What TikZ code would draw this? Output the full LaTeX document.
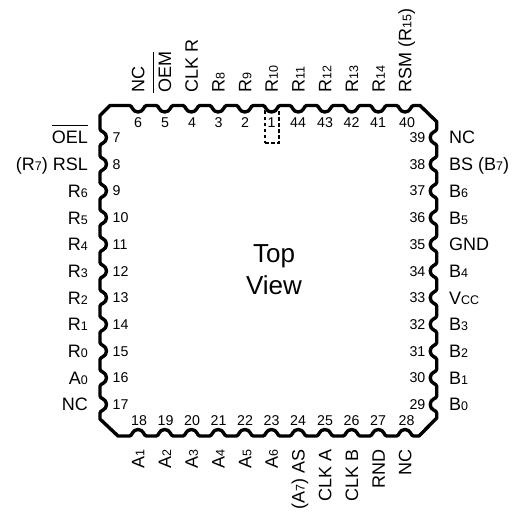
\documentclass[tikz,border=0pt]{standalone}
\usepackage{fontspec}
\setmainfont{Liberation Sans}
\newcommand{\sbs}[1]{{\fontsize{12.5}{13}\selectfont #1}}
\newsavebox{\ovlbox}
\newcommand{\ovl}[1]{\sbox{\ovlbox}{#1}\rlap{\rule[17.5pt]{\wd\ovlbox}{1.1pt}}#1}
\tikzset{
 sig/.style={inner sep=0pt,font=\fontsize{18}{20}\selectfont,text height=12.9pt,text depth=0pt},
 num/.style={inner sep=0pt,font=\fontsize{14.2}{16}\selectfont,text height=10pt,text depth=0pt},
 sigL/.style={sig,anchor=east},
 sigR/.style={sig,anchor=west},
 sigT/.style={sig,rotate=90,anchor=west},
 sigB/.style={sig,rotate=90,anchor=east},
 body/.style={line width=3.4pt,line join=round,black},
 pinone/.style={draw,line width=1.2pt,dash pattern=on 3.5pt off 2.5pt,minimum width=14pt,minimum height=32pt,inner sep=0pt},
 titletext/.style={inner sep=0pt,font=\fontsize{26}{32}\selectfont,text height=18.6pt,text depth=0pt},
}
\begin{document}
\begin{tikzpicture}[x=1pt,y=-1pt]
\useasboundingbox (0,0) rectangle (519,513);
% pin 1 marker
\node[pinone] (mark) at (272,127) {};
% package outline with rounded pin notches
\draw[body] (110,105.5)
 \foreach \p in {138,164.7,191.4,218.1,244.8,271.5,298.2,324.9,351.6,378.3,405} {
   -- ({\p-8.5},105.5) .. controls ({\p-5.5},105.5) and ({\p-6},112) .. (\p,112) .. controls ({\p+6},112) and ({\p+5.5},105.5) .. ({\p+8.5},105.5)
 }
 -- (420,105.5) -- (436.7,121.7)
 \foreach \p in {137.5,164.2,190.9,217.6,244.3,271,297.7,324.4,351.1,377.8,404.5} {
   -- (436.7,{\p-8.5}) .. controls (436.7,{\p-5.5}) and (430.2,{\p-6}) .. (430.2,\p) .. controls (430.2,{\p+6}) and (436.7,{\p+5.5}) .. (436.7,{\p+8.5})
 }
 -- (436.7,418) -- (419,436)
 \foreach \p in {405,378.3,351.6,324.9,298.2,271.5,244.8,218.1,191.4,164.7,138} {
   -- ({\p+8.5},436) .. controls ({\p+5.5},436) and ({\p+6},429.5) .. (\p,429.5) .. controls ({\p-6},429.5) and ({\p-5.5},436) .. ({\p-8.5},436)
 }
 -- (118,436) -- (100,419)
 \foreach \p in {404.5,377.8,351.1,324.4,297.7,271,244.3,217.6,190.9,164.2,137.5} {
   -- (100,{\p+8.5}) .. controls (100,{\p+5.5}) and (106.5,{\p+6}) .. (106.5,\p) .. controls (106.5,{\p-6}) and (100,{\p-5.5}) .. (100,{\p-8.5})
 }
 -- (100,115.5) -- cycle;
% centre
\node[titletext] (top) at (274,253.5) {Top};
\node[titletext] (view) at (274,285.5) {View};
% top signals
\node[sigT] (s6) at (138,93) {NC};
\node[sigT] (s5) at (164.7,93) {\ovl{OEM}};
\node[sigT] (s4) at (191.4,93) {CLK R};
\node[sigT] (s3) at (218.1,93) {R\sbs{8}};
\node[sigT] (s2) at (244.8,93) {R\sbs{9}};
\node[sigT] (s1) at (271.5,93) {R\sbs{10}};
\node[sigT] (s44) at (298.2,93) {R\sbs{11}};
\node[sigT] (s43) at (324.9,93) {R\sbs{12}};
\node[sigT] (s42) at (351.6,93) {R\sbs{13}};
\node[sigT] (s41) at (378.3,93) {R\sbs{14}};
\node[sigT] (s40) at (405,93) {RSM (R\sbs{15})};
% top numbers
\node[num] (n6) at (138,123) {6};
\node[num] (n5) at (165,123) {5};
\node[num] (n4) at (192,123) {4};
\node[num] (n3) at (218.5,123) {3};
\node[num] (n2) at (245,123) {2};
\node[num] (n1) at (271.5,123) {1};
\node[num] (n44) at (298,123) {44};
\node[num] (n43) at (325,123) {43};
\node[num] (n42) at (351.5,123) {42};
\node[num] (n41) at (378,123) {41};
\node[num] (n40) at (407,123) {40};
% left signals
\node[sigL] (s7) at (88,137.5) {\ovl{OEL}};
\node[sigL] (s8) at (88,164.2) {(R\sbs{7}) RSL};
\node[sigL] (s9) at (88,190.9) {R\sbs{6}};
\node[sigL] (s10) at (88,217.6) {R\sbs{5}};
\node[sigL] (s11) at (88,244.3) {R\sbs{4}};
\node[sigL] (s12) at (88,271) {R\sbs{3}};
\node[sigL] (s13) at (88,297.7) {R\sbs{2}};
\node[sigL] (s14) at (88,324.4) {R\sbs{1}};
\node[sigL] (s15) at (88,351.1) {R\sbs{0}};
\node[sigL] (s16) at (88,377.8) {A\sbs{0}};
\node[sigL] (s17) at (88,404.5) {NC};
% left numbers
\node[num,anchor=west] (n7) at (112.5,137.5) {7};
\node[num,anchor=west] (n8) at (112.5,164.2) {8};
\node[num,anchor=west] (n9) at (112.5,190.9) {9};
\node[num,anchor=west] (n10) at (112.5,217.6) {10};
\node[num,anchor=west] (n11) at (112.5,244.3) {11};
\node[num,anchor=west] (n12) at (112.5,271) {12};
\node[num,anchor=west] (n13) at (112.5,297.7) {13};
\node[num,anchor=west] (n14) at (112.5,324.4) {14};
\node[num,anchor=west] (n15) at (112.5,351.1) {15};
\node[num,anchor=west] (n16) at (112.5,377.8) {16};
\node[num,anchor=west] (n17) at (112.5,404.5) {17};
% right signals
\node[sigR] (s39) at (449,137.5) {NC};
\node[sigR] (s38) at (449,164.2) {BS (B\sbs{7})};
\node[sigR] (s37) at (449,190.9) {B\sbs{6}};
\node[sigR] (s36) at (449,217.6) {B\sbs{5}};
\node[sigR] (s35) at (449,244.3) {GND};
\node[sigR] (s34) at (449,271) {B\sbs{4}};
\node[sigR] (s33) at (449,297.7) {V\sbs{CC}};
\node[sigR] (s32) at (449,324.4) {B\sbs{3}};
\node[sigR] (s31) at (449,351.1) {B\sbs{2}};
\node[sigR] (s30) at (449,377.8) {B\sbs{1}};
\node[sigR] (s29) at (449,404.5) {B\sbs{0}};
% right numbers
\node[num,anchor=east] (n39) at (425.5,137.5) {39};
\node[num,anchor=east] (n38) at (425.5,164.2) {38};
\node[num,anchor=east] (n37) at (425.5,190.9) {37};
\node[num,anchor=east] (n36) at (425.5,217.6) {36};
\node[num,anchor=east] (n35) at (425.5,244.3) {35};
\node[num,anchor=east] (n34) at (425.5,271) {34};
\node[num,anchor=east] (n33) at (425.5,297.7) {33};
\node[num,anchor=east] (n32) at (425.5,324.4) {32};
\node[num,anchor=east] (n31) at (425.5,351.1) {31};
\node[num,anchor=east] (n30) at (425.5,377.8) {30};
\node[num,anchor=east] (n29) at (425.5,404.5) {29};
% bottom numbers
\node[num] (n18) at (139,420) {18};
\node[num] (n19) at (165.5,420) {19};
\node[num] (n20) at (192,420) {20};
\node[num] (n21) at (218.5,420) {21};
\node[num] (n22) at (245,420) {22};
\node[num] (n23) at (271.5,420) {23};
\node[num] (n24) at (298,420) {24};
\node[num] (n25) at (325,420) {25};
\node[num] (n26) at (351.5,420) {26};
\node[num] (n27) at (378,420) {27};
\node[num] (n28) at (406.5,420) {28};
% bottom signals
\node[sigB] (s18) at (138,449) {A\sbs{1}};
\node[sigB] (s19) at (164.7,449) {A\sbs{2}};
\node[sigB] (s20) at (191.4,449) {A\sbs{3}};
\node[sigB] (s21) at (218.1,449) {A\sbs{4}};
\node[sigB] (s22) at (244.8,449) {A\sbs{5}};
\node[sigB] (s23) at (271.5,449) {A\sbs{6}};
\node[sigB] (s24) at (298.2,449) {(A\sbs{7}) AS};
\node[sigB] (s25) at (324.9,449) {CLK A};
\node[sigB] (s26) at (351.6,449) {CLK B};
\node[sigB] (s27) at (378.3,449) {RND};
\node[sigB] (s28) at (405,449) {NC};
\end{tikzpicture}
\end{document}
